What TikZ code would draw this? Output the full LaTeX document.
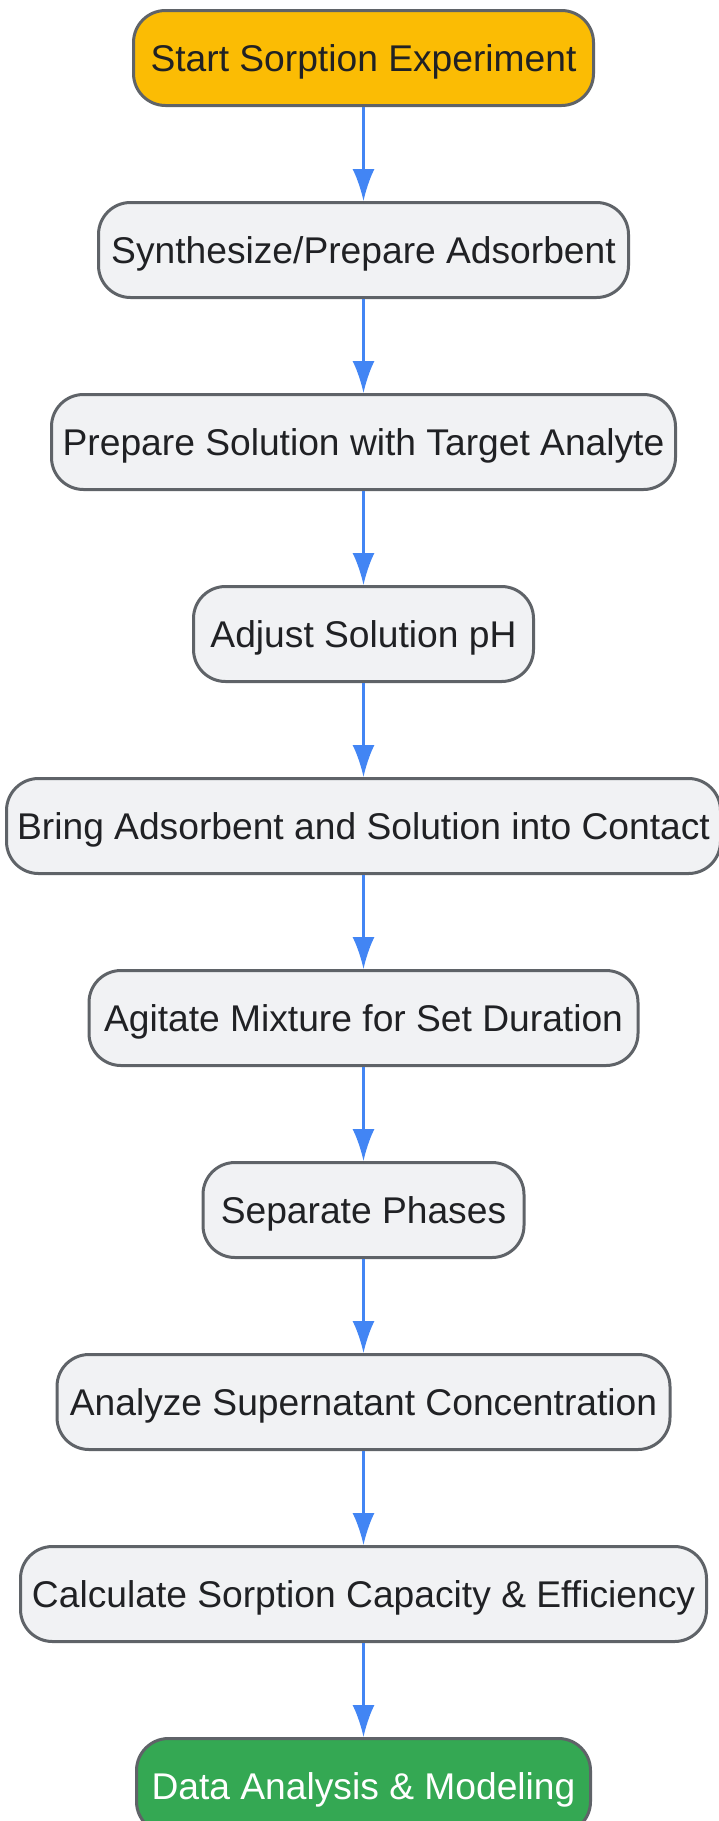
\documentclass[tikz,border=0pt]{standalone}
\usepackage{fontspec}
\setmainfont{Liberation Sans}
\usetikzlibrary{arrows.meta}
\definecolor{boxfill}{HTML}{F1F2F4}
\definecolor{boxline}{HTML}{5F6368}
\definecolor{startfill}{HTML}{FBBC04}
\definecolor{endfill}{HTML}{34A853}
\definecolor{arrowblue}{HTML}{4285F4}
\definecolor{txt}{HTML}{202124}
\tikzset{
  x=1pt,y=-1pt,
  stepbox/.style={draw=boxline, line width=3pt, fill=boxfill, rounded corners=32pt,
    minimum height=95pt, inner sep=0pt, text=txt, text height=27pt, text depth=0pt,
    font=\fontsize{37.2}{44}\selectfont},
  startbox/.style={stepbox, fill=startfill},
  endbox/.style={stepbox, fill=endfill, text=white},
  flow/.style={draw=arrowblue, line width=2.4pt,
    -{Latex[length=32pt,width=22pt]}, shorten >=0pt}
}
\begin{document}
\begin{tikzpicture}
\useasboundingbox (0,0) rectangle (718,1821);
\node[startbox, minimum width=460pt] (n1) at (363.5,58) {Start Sorption Experiment};
\node[stepbox, minimum width=530pt] (n2) at (363.5,250) {Synthesize/Prepare Adsorbent};
\node[stepbox, minimum width=624pt] (n3) at (363.5,442) {Prepare Solution with Target Analyte};
\node[stepbox, minimum width=340pt] (n4) at (363.5,634) {Adjust Solution pH};
\node[stepbox, minimum width=714pt] (n5) at (363.5,826) {Bring Adsorbent and Solution into Contact};
\node[stepbox, minimum width=549pt] (n6) at (363.5,1018) {Agitate Mixture for Set Duration};
\node[stepbox, minimum width=321pt] (n7) at (363.5,1210) {Separate Phases};
\node[stepbox, minimum width=613pt] (n8) at (363.5,1402) {Analyze Supernatant Concentration};
\node[stepbox, minimum width=686pt] (n9) at (363.5,1594) {Calculate Sorption Capacity \& Efficiency};
\node[endbox, minimum width=454pt] (n10) at (363.5,1786) {Data Analysis \& Modeling};
\foreach \a/\b in {n1/n2,n2/n3,n3/n4,n4/n5,n5/n6,n6/n7,n7/n8,n8/n9,n9/n10}
  \draw[flow] (\a.south) -- (\b.north);
\end{tikzpicture}
\end{document}
